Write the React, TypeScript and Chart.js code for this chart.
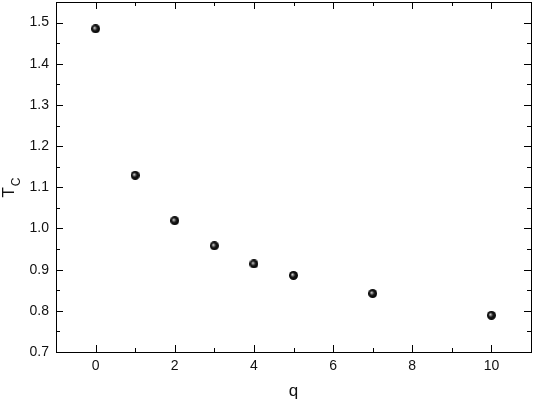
import React, { useEffect, useRef } from "react";
import { Chart, registerables } from "chart.js";

Chart.register(...registerables);

const Q_VALUES = [0, 1, 2, 3, 4, 5, 7, 10];
const TC_VALUES = [1.485, 1.129, 1.019, 0.958, 0.914, 0.886, 0.842, 0.789];
const X_TICKS = [0, 2, 4, 6, 8, 10];
const Y_TICKS = [0.7, 0.8, 0.9, 1.0, 1.1, 1.2, 1.3, 1.4, 1.5];
const X_TITLE = "q";
const Y_TITLE_MAIN = "T";
const Y_TITLE_SUB = "C";

const FONT = "'Liberation Sans', Arial, sans-serif";

function makeSphere(): HTMLCanvasElement {
  const size = 9;
  const c = document.createElement("canvas");
  c.width = size;
  c.height = size;
  const ctx = c.getContext("2d")!;
  const r = size / 2;
  const g = ctx.createRadialGradient(r - 1.3, r - 1.0, 0, r, r, r);
  g.addColorStop(0, "#e8e8e8");
  g.addColorStop(0.22, "#8a8a8a");
  g.addColorStop(0.5, "#1a1a1a");
  g.addColorStop(1, "#000000");
  ctx.fillStyle = g;
  ctx.beginPath();
  ctx.arc(r, r, r, 0, Math.PI * 2);
  ctx.fill();
  return c;
}

const framePlugin = {
  id: "frameTicks",
  afterDraw(chart: any) {
    const { ctx, chartArea } = chart;
    const xs = chart.scales.x;
    const ys = chart.scales.y;
    const { left, right, top, bottom } = chartArea;
    ctx.save();
    ctx.strokeStyle = "#000";
    ctx.lineWidth = 1;
    ctx.strokeRect(Math.round(left) + 0.5, Math.round(top) + 0.5, Math.round(right - left), Math.round(bottom - top));
    ctx.beginPath();
    for (let v = Math.ceil(xs.min); v <= xs.max; v += 1) {
      const major = v % 2 === 0;
      const len = major ? 7 : 4;
      const px = Math.round(xs.getPixelForValue(v)) + 0.5;
      ctx.moveTo(px, bottom);
      ctx.lineTo(px, bottom - len);
      ctx.moveTo(px, top);
      ctx.lineTo(px, top + len);
    }
    for (let i = 0; ; i++) {
      const v = 0.7 + i * 0.05;
      if (v > ys.max + 1e-9) break;
      const major = i % 2 === 0;
      const len = major ? 7 : 4;
      const py = Math.round(ys.getPixelForValue(v)) + 0.5;
      ctx.moveTo(left, py);
      ctx.lineTo(left + len, py);
      ctx.moveTo(right, py);
      ctx.lineTo(right - len, py);
    }
    ctx.stroke();

    ctx.fillStyle = "#111";
    ctx.font = `17px ${FONT}`;
    ctx.textAlign = "center";
    ctx.textBaseline = "middle";
    ctx.fillText(X_TITLE, (left + right) / 2, 391);

    ctx.translate(14, (top + bottom) / 2 + 11);
    ctx.rotate(-Math.PI / 2);
    ctx.textAlign = "left";
    ctx.textBaseline = "alphabetic";
    ctx.font = `17px ${FONT}`;
    const wT = ctx.measureText(Y_TITLE_MAIN).width;
    ctx.font = `12px ${FONT}`;
    const wC = ctx.measureText(Y_TITLE_SUB).width;
    const start = -(wT + wC) / 2;
    ctx.font = `17px ${FONT}`;
    ctx.fillText(Y_TITLE_MAIN, start, 0);
    ctx.font = `12px ${FONT}`;
    ctx.fillText(Y_TITLE_SUB, start + wT + 1, 6);
    ctx.restore();
  },
};

export default function App() {
  const ref = useRef<HTMLCanvasElement>(null);
  useEffect(() => {
    const sphere = makeSphere();
    const chart = new Chart(ref.current!, {
      type: "scatter",
      data: {
        datasets: [
          {
            data: Q_VALUES.map((q, i) => ({ x: q, y: TC_VALUES[i] })),
            pointStyle: sphere as any,
            pointRadius: 4.5,
            backgroundColor: "#000",
            borderColor: "#000",
          },
        ],
      },
      options: {
        animation: false,
        responsive: true,
        maintainAspectRatio: false,
        layout: { autoPadding: false, padding: { left: 0, right: 2, top: 2, bottom: 0 } },
        plugins: { legend: { display: false }, tooltip: { enabled: false } },
        scales: {
          x: {
            type: "linear",
            min: -1,
            max: 11,
            grid: { display: false, drawTicks: false },
            border: { display: false },
            afterBuildTicks: (s: any) => {
              s.ticks = X_TICKS.map((v) => ({ value: v }));
            },
            afterFit: (s: any) => {
              s.height = 52;
              s.paddingLeft = 0;
              s.paddingRight = 0;
            },
            ticks: {
              padding: 6,
              color: "#111",
              font: { family: FONT, size: 14 },
              maxRotation: 0,
              callback: (v: any) => String(v),
            },
          },
          y: {
            type: "linear",
            min: 0.7,
            max: 1.55,
            grid: { display: false, drawTicks: false },
            border: { display: false },
            afterBuildTicks: (s: any) => {
              s.ticks = Y_TICKS.map((v) => ({ value: v }));
            },
            afterFit: (s: any) => {
              s.width = 56;
              s.paddingTop = 0;
              s.paddingBottom = 0;
            },
            ticks: {
              padding: 7,
              color: "#111",
              font: { family: FONT, size: 14 },
              callback: (v: any) => Number(v).toFixed(1),
            },
          },
        },
      },
      plugins: [framePlugin],
    });
    return () => chart.destroy();
  }, []);
  return (
    <div style={{ position: "absolute", left: 0, top: 0, width: 533, height: 404, background: "#fff" }}>
      <canvas ref={ref} />
    </div>
  );
}
